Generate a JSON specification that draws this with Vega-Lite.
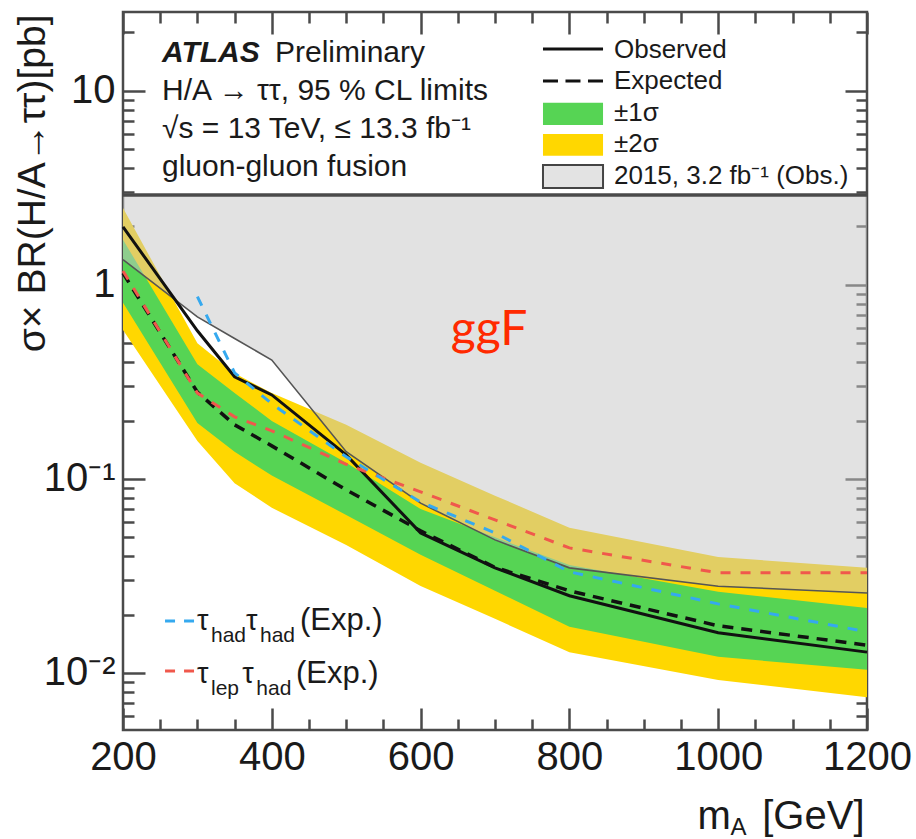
{
  "$schema": "https://vega.github.io/schema/vega-lite/v6.json",
  "width": 744,
  "height": 718,
  "autosize": "none",
  "padding": {"left": 123, "top": 12, "right": 49, "bottom": 109},
  "background": "white",
  "config": {
    "view": {"stroke": "#4a4a4a", "strokeWidth": 2.5, "fill": "white"},
    "font": "Liberation Sans",
    "axis": {"domain": false, "grid": false, "tickColor": "#4a4a4a", "tickWidth": 2.5, "labelFont": "Liberation Sans", "labelColor": "#1a1a1a", "titleFont": "Liberation Sans", "titleColor": "#1a1a1a", "titleFontWeight": "normal"},
    "text": {"font": "Liberation Sans", "color": "#1a1a1a"}
  },
  "datasets": {
    "limits": [
      {"m": 200, "obs": 1.99, "exp": 1.15, "s1lo": 0.81, "s1hi": 1.71, "s2lo": 0.586, "s2hi": 2.49, "obs2015": 1.35, "hadhad": null, "lephad": 1.18},
      {"m": 300, "obs": 0.58, "exp": 0.28, "s1lo": 0.194, "s1hi": 0.39, "s2lo": 0.157, "s2hi": 0.5, "obs2015": 0.684, "hadhad": 0.87, "lephad": 0.277},
      {"m": 350, "obs": 0.336, "exp": 0.19, "s1lo": 0.138, "s1hi": 0.277, "s2lo": 0.095, "s2hi": 0.35, "obs2015": 0.529, "hadhad": 0.352, "lephad": 0.209},
      {"m": 400, "obs": 0.271, "exp": 0.148, "s1lo": 0.104, "s1hi": 0.199, "s2lo": 0.071, "s2hi": 0.277, "obs2015": 0.41, "hadhad": 0.244, "lephad": 0.177},
      {"m": 500, "obs": 0.133, "exp": 0.0878, "s1lo": 0.0652, "s1hi": 0.121, "s2lo": 0.0457, "s2hi": 0.19, "obs2015": 0.138, "hadhad": 0.13, "lephad": 0.119},
      {"m": 600, "obs": 0.0527, "exp": 0.054, "s1lo": 0.0406, "s1hi": 0.07, "s2lo": 0.0281, "s2hi": 0.121, "obs2015": 0.075, "hadhad": 0.076, "lephad": 0.0857},
      {"m": 700, "obs": 0.0348, "exp": 0.035, "s1lo": 0.0265, "s1hi": 0.05, "s2lo": 0.019, "s2hi": 0.082, "obs2015": 0.0485, "hadhad": 0.0527, "lephad": 0.0615},
      {"m": 800, "obs": 0.025, "exp": 0.0265, "s1lo": 0.0173, "s1hi": 0.036, "s2lo": 0.0128, "s2hi": 0.056, "obs2015": 0.0348, "hadhad": 0.0332, "lephad": 0.0441},
      {"m": 1000, "obs": 0.0161, "exp": 0.0175, "s1lo": 0.0121, "s1hi": 0.0262, "s2lo": 0.0092, "s2hi": 0.0396, "obs2015": 0.028, "hadhad": 0.0227, "lephad": 0.0328},
      {"m": 1200, "obs": 0.0128, "exp": 0.0139, "s1lo": 0.0104, "s1hi": 0.0216, "s2lo": 0.0075, "s2hi": 0.0348, "obs2015": 0.0258, "hadhad": 0.0163, "lephad": 0.0328}
    ]
  },
  "data": {"name": "limits"},
  "resolve": {"axis": {"x": "independent", "y": "independent"}},
  "layer": [
    {
      "mark": {"type": "area", "color": "#ffd700"},
      "encoding": {
        "x": {"field": "m", "type": "quantitative", "scale": {"type": "linear", "domain": [200, 1200], "nice": false, "zero": false},
          "axis": {"orient": "bottom", "values": [200, 250, 300, 350, 400, 450, 500, 550, 600, 650, 700, 750, 800, 850, 900, 950, 1000, 1050, 1100, 1150, 1200], "format": "d",
            "labelExpr": "datum.value % 200 === 0 ? datum.label : ''",
            "tickSize": {"condition": {"test": "datum.value % 200 === 0", "value": -22}, "value": -11},
            "labelPadding": 29, "labelFontSize": 40, "labelFlush": false, "labelOverlap": false,
            "title": "[GeV]", "titleFontSize": 40, "titleX": 741, "titleY": 98, "titleAlign": "right", "titleBaseline": "alphabetic", "titleLimit": 400}},
        "y": {"field": "s2lo", "type": "quantitative", "scale": {"type": "log", "domain": [0.00508, 25.5], "nice": false},
          "axis": {"orient": "left", "values": [0.006, 0.007, 0.008, 0.009, 0.01, 0.02, 0.03, 0.04, 0.05, 0.06, 0.07, 0.08, 0.09, 0.1, 0.2, 0.3, 0.4, 0.5, 0.6, 0.7, 0.8, 0.9, 1, 2, 3, 4, 5, 6, 7, 8, 9, 10, 20],
            "labelExpr": "datum.value === 10 ? '10' : datum.value === 1 ? '1' : datum.value === 0.1 ? '10⁻¹' : datum.value === 0.01 ? '10⁻²' : ''",
            "tickSize": {"condition": {"test": "datum.value === 0.01 || datum.value === 0.1 || datum.value === 1 || datum.value === 10", "value": -22}, "value": -11},
            "labelPadding": 30, "labelFontSize": 40, "labelFlush": false, "labelOverlap": false, "labelBaseline": "middle",
            "title": "σ× BR(H/A→ττ)[pb]", "titleFontSize": 39, "titleAngle": -90, "titleX": -79, "titleY": 2, "titleAlign": "right", "titleBaseline": "alphabetic", "titleLimit": 500}},
        "y2": {"field": "s2hi"}
      }
    },
    {
      "mark": {"type": "area", "color": "#56d454"},
      "encoding": {
        "x": {"field": "m", "type": "quantitative", "scale": {"type": "linear", "domain": [200, 1200], "nice": false, "zero": false},
          "axis": {"orient": "top", "values": [200, 250, 300, 350, 400, 450, 500, 550, 600, 650, 700, 750, 800, 850, 900, 950, 1000, 1050, 1100, 1150, 1200],
            "labels": false,
            "tickSize": {"condition": {"test": "datum.value % 200 === 0", "value": -22}, "value": -11},
            "title": "A", "titleFontSize": 24, "titleX": 607, "titleY": 822, "titleAlign": "left", "titleBaseline": "alphabetic"}},
        "y": {"field": "s1lo", "type": "quantitative", "scale": {"type": "log", "domain": [0.00508, 25.5], "nice": false},
          "axis": {"orient": "right", "values": [0.006, 0.007, 0.008, 0.009, 0.01, 0.02, 0.03, 0.04, 0.05, 0.06, 0.07, 0.08, 0.09, 0.1, 0.2, 0.3, 0.4, 0.5, 0.6, 0.7, 0.8, 0.9, 1, 2, 3, 4, 5, 6, 7, 8, 9, 10, 20],
            "labels": false,
            "tickSize": {"condition": {"test": "datum.value === 0.01 || datum.value === 0.1 || datum.value === 1 || datum.value === 10", "value": -22}, "value": -11},
            "title": "m", "titleFontSize": 40, "titleAngle": 0, "titleX": -170, "titleY": 816, "titleAlign": "left", "titleBaseline": "alphabetic"}},
        "y2": {"field": "s1hi"}
      }
    },
    {
      "mark": {"type": "area", "color": "#c6c6c6", "fillOpacity": 0.5},
      "encoding": {
        "x": {"field": "m", "type": "quantitative", "scale": {"type": "linear", "domain": [200, 1200], "nice": false, "zero": false}, "axis": null},
        "y": {"field": "obs2015", "type": "quantitative", "scale": {"type": "log", "domain": [0.00508, 25.5], "nice": false}, "axis": null},
        "y2": {"datum": 2.91}
      }
    },
    {
      "data": {"values": [{}]},
      "mark": {"type": "rule", "color": "#4a4a4a", "strokeWidth": 3.5},
      "encoding": {
        "y": {"datum": 2.91, "type": "quantitative", "scale": {"type": "log", "domain": [0.00508, 25.5], "nice": false}, "axis": null}
      }
    },
    {
      "mark": {"type": "line", "color": "#555555", "strokeWidth": 1.6},
      "encoding": {
        "x": {"field": "m", "type": "quantitative", "scale": {"type": "linear", "domain": [200, 1200], "nice": false, "zero": false}, "axis": null},
        "y": {"field": "obs2015", "type": "quantitative", "scale": {"type": "log", "domain": [0.00508, 25.5], "nice": false}, "axis": null}
      }
    },
    {
      "mark": {"type": "line", "color": "#111111", "strokeWidth": 3.5, "strokeDash": [11, 8]},
      "encoding": {
        "x": {"field": "m", "type": "quantitative", "scale": {"type": "linear", "domain": [200, 1200], "nice": false, "zero": false}, "axis": null},
        "y": {"field": "exp", "type": "quantitative", "scale": {"type": "log", "domain": [0.00508, 25.5], "nice": false}, "axis": null}
      }
    },
    {
      "mark": {"type": "line", "color": "#111111", "strokeWidth": 3},
      "encoding": {
        "x": {"field": "m", "type": "quantitative", "scale": {"type": "linear", "domain": [200, 1200], "nice": false, "zero": false}, "axis": null},
        "y": {"field": "obs", "type": "quantitative", "scale": {"type": "log", "domain": [0.00508, 25.5], "nice": false}, "axis": null}
      }
    },
    {
      "mark": {"type": "line", "color": "#f0584c", "strokeWidth": 3, "strokeDash": [10, 10]},
      "encoding": {
        "x": {"field": "m", "type": "quantitative", "scale": {"type": "linear", "domain": [200, 1200], "nice": false, "zero": false}, "axis": null},
        "y": {"field": "lephad", "type": "quantitative", "scale": {"type": "log", "domain": [0.00508, 25.5], "nice": false}, "axis": null}
      }
    },
    {
      "mark": {"type": "line", "color": "#35a9ef", "strokeWidth": 3, "strokeDash": [10, 10]},
      "encoding": {
        "x": {"field": "m", "type": "quantitative", "scale": {"type": "linear", "domain": [200, 1200], "nice": false, "zero": false}, "axis": null},
        "y": {"field": "hadhad", "type": "quantitative", "scale": {"type": "log", "domain": [0.00508, 25.5], "nice": false}, "axis": null}
      }
    },
    {
      "data": {"values": [{}]},
      "mark": {"type": "text", "text": "ATLAS", "fontSize": 30, "fontWeight": "bold", "fontStyle": "italic", "align": "left", "baseline": "alphabetic"},
      "encoding": {
        "x": {"datum": 252.4, "type": "quantitative", "scale": {"type": "linear", "domain": [200, 1200], "nice": false, "zero": false}, "axis": null},
        "y": {"datum": 14.11, "type": "quantitative", "scale": {"type": "log", "domain": [0.00508, 25.5], "nice": false}, "axis": null}
      }
    },
    {
      "data": {"values": [{}]},
      "mark": {"type": "text", "text": "Preliminary", "fontSize": 30, "align": "left", "baseline": "alphabetic"},
      "encoding": {
        "x": {"datum": 404.3, "type": "quantitative", "scale": {"type": "linear", "domain": [200, 1200], "nice": false, "zero": false}, "axis": null},
        "y": {"datum": 14.11, "type": "quantitative", "scale": {"type": "log", "domain": [0.00508, 25.5], "nice": false}, "axis": null}
      }
    },
    {
      "data": {"values": [{}]},
      "mark": {"type": "text", "text": ["H/A → ττ, 95 % CL limits", "√s = 13 TeV, ≤ 13.3 fb⁻¹", "gluon-gluon fusion"], "fontSize": 30, "lineHeight": 38, "align": "left", "baseline": "alphabetic"},
      "encoding": {
        "x": {"datum": 252.4, "type": "quantitative", "scale": {"type": "linear", "domain": [200, 1200], "nice": false, "zero": false}, "axis": null},
        "y": {"datum": 8.986, "type": "quantitative", "scale": {"type": "log", "domain": [0.00508, 25.5], "nice": false}, "axis": null}
      }
    },
    {
      "data": {"values": [{}]},
      "mark": {"type": "rule", "color": "#111111", "strokeWidth": 3},
      "encoding": {
        "x": {"datum": 764.5, "type": "quantitative", "scale": {"type": "linear", "domain": [200, 1200], "nice": false, "zero": false}, "axis": null},
        "x2": {"datum": 845.2},
        "y": {"datum": 16.46, "type": "quantitative", "scale": {"type": "log", "domain": [0.00508, 25.5], "nice": false}, "axis": null}
      }
    },
    {
      "data": {"values": [{}]},
      "mark": {"type": "rule", "color": "#111111", "strokeWidth": 3, "strokeDash": [15, 7.5]},
      "encoding": {
        "x": {"datum": 764.5, "type": "quantitative", "scale": {"type": "linear", "domain": [200, 1200], "nice": false, "zero": false}, "axis": null},
        "x2": {"datum": 845.2},
        "y": {"datum": 11.26, "type": "quantitative", "scale": {"type": "log", "domain": [0.00508, 25.5], "nice": false}, "axis": null}
      }
    },
    {
      "data": {"values": [{}]},
      "mark": {"type": "rect", "color": "#56d454"},
      "encoding": {
        "x": {"datum": 764.5, "type": "quantitative", "scale": {"type": "linear", "domain": [200, 1200], "nice": false, "zero": false}, "axis": null},
        "x2": {"datum": 845.2},
        "y": {"datum": 8.674, "type": "quantitative", "scale": {"type": "log", "domain": [0.00508, 25.5], "nice": false}, "axis": null},
        "y2": {"datum": 6.677}
      }
    },
    {
      "data": {"values": [{}]},
      "mark": {"type": "rect", "color": "#ffd700"},
      "encoding": {
        "x": {"datum": 764.5, "type": "quantitative", "scale": {"type": "linear", "domain": [200, 1200], "nice": false, "zero": false}, "axis": null},
        "x2": {"datum": 845.2},
        "y": {"datum": 6.003, "type": "quantitative", "scale": {"type": "log", "domain": [0.00508, 25.5], "nice": false}, "axis": null},
        "y2": {"datum": 4.624}
      }
    },
    {
      "data": {"values": [{}]},
      "mark": {"type": "rect", "fill": "#e3e3e3", "stroke": "#444444", "strokeWidth": 2},
      "encoding": {
        "x": {"datum": 764.5, "type": "quantitative", "scale": {"type": "linear", "domain": [200, 1200], "nice": false, "zero": false}, "axis": null},
        "x2": {"datum": 845.2},
        "y": {"datum": 4.155, "type": "quantitative", "scale": {"type": "log", "domain": [0.00508, 25.5], "nice": false}, "axis": null},
        "y2": {"datum": 3.162}
      }
    },
    {
      "data": {"values": [{}]},
      "mark": {"type": "text", "text": ["Observed", "Expected", "±1σ", "±2σ", "2015, 3.2 fb⁻¹ (Obs.)"], "fontSize": 26, "lineHeight": 31.5, "align": "left", "baseline": "alphabetic"},
      "encoding": {
        "x": {"datum": 859.9, "type": "quantitative", "scale": {"type": "linear", "domain": [200, 1200], "nice": false, "zero": false}, "axis": null},
        "y": {"datum": 14.8, "type": "quantitative", "scale": {"type": "log", "domain": [0.00508, 25.5], "nice": false}, "axis": null}
      }
    },
    {
      "data": {"values": [{}]},
      "mark": {"type": "text", "text": "ggF", "font": "Lato", "fontSize": 48, "color": "#ff2a00", "align": "center", "baseline": "alphabetic"},
      "encoding": {
        "x": {"datum": 692, "type": "quantitative", "scale": {"type": "linear", "domain": [200, 1200], "nice": false, "zero": false}, "axis": null},
        "y": {"datum": 0.491, "type": "quantitative", "scale": {"type": "log", "domain": [0.00508, 25.5], "nice": false}, "axis": null}
      }
    },
    {
      "data": {"values": [{}]},
      "mark": {"type": "rule", "color": "#35a9ef", "strokeWidth": 3, "strokeDash": [10, 9]},
      "encoding": {
        "x": {"datum": 256.5, "type": "quantitative", "scale": {"type": "linear", "domain": [200, 1200], "nice": false, "zero": false}, "axis": null},
        "x2": {"datum": 296.8},
        "y": {"datum": 0.01854, "type": "quantitative", "scale": {"type": "log", "domain": [0.00508, 25.5], "nice": false}, "axis": null}
      }
    },
    {
      "data": {"values": [{}]},
      "mark": {"type": "rule", "color": "#f0584c", "strokeWidth": 3, "strokeDash": [10, 9]},
      "encoding": {
        "x": {"datum": 256.5, "type": "quantitative", "scale": {"type": "linear", "domain": [200, 1200], "nice": false, "zero": false}, "axis": null},
        "x2": {"datum": 296.8},
        "y": {"datum": 0.01024, "type": "quantitative", "scale": {"type": "log", "domain": [0.00508, 25.5], "nice": false}, "axis": null}
      }
    },
    {
      "data": {"values": [{}]},
      "mark": {"type": "text", "text": "τ", "fontSize": 29, "align": "left", "baseline": "alphabetic"},
      "encoding": {
        "x": {"datum": 299.5, "type": "quantitative", "scale": {"type": "linear", "domain": [200, 1200], "nice": false, "zero": false}, "axis": null},
        "y": {"datum": 0.01666, "type": "quantitative", "scale": {"type": "log", "domain": [0.00508, 25.5], "nice": false}, "axis": null}
      }
    },
    {
      "data": {"values": [{}]},
      "mark": {"type": "text", "text": "had", "fontSize": 21, "align": "left", "baseline": "alphabetic"},
      "encoding": {
        "x": {"datum": 318.3, "type": "quantitative", "scale": {"type": "linear", "domain": [200, 1200], "nice": false, "zero": false}, "axis": null},
        "y": {"datum": 0.01445, "type": "quantitative", "scale": {"type": "log", "domain": [0.00508, 25.5], "nice": false}, "axis": null}
      }
    },
    {
      "data": {"values": [{}]},
      "mark": {"type": "text", "text": "τ", "fontSize": 29, "align": "left", "baseline": "alphabetic"},
      "encoding": {
        "x": {"datum": 365.3, "type": "quantitative", "scale": {"type": "linear", "domain": [200, 1200], "nice": false, "zero": false}, "axis": null},
        "y": {"datum": 0.01666, "type": "quantitative", "scale": {"type": "log", "domain": [0.00508, 25.5], "nice": false}, "axis": null}
      }
    },
    {
      "data": {"values": [{}]},
      "mark": {"type": "text", "text": "had", "fontSize": 21, "align": "left", "baseline": "alphabetic"},
      "encoding": {
        "x": {"datum": 384.1, "type": "quantitative", "scale": {"type": "linear", "domain": [200, 1200], "nice": false, "zero": false}, "axis": null},
        "y": {"datum": 0.01445, "type": "quantitative", "scale": {"type": "log", "domain": [0.00508, 25.5], "nice": false}, "axis": null}
      }
    },
    {
      "data": {"values": [{}]},
      "mark": {"type": "text", "text": "(Exp.)", "fontSize": 31, "align": "left", "baseline": "alphabetic"},
      "encoding": {
        "x": {"datum": 437.9, "type": "quantitative", "scale": {"type": "linear", "domain": [200, 1200], "nice": false, "zero": false}, "axis": null},
        "y": {"datum": 0.01666, "type": "quantitative", "scale": {"type": "log", "domain": [0.00508, 25.5], "nice": false}, "axis": null}
      }
    },
    {
      "data": {"values": [{}]},
      "mark": {"type": "text", "text": "τ", "fontSize": 29, "align": "left", "baseline": "alphabetic"},
      "encoding": {
        "x": {"datum": 299.5, "type": "quantitative", "scale": {"type": "linear", "domain": [200, 1200], "nice": false, "zero": false}, "axis": null},
        "y": {"datum": 0.008883, "type": "quantitative", "scale": {"type": "log", "domain": [0.00508, 25.5], "nice": false}, "axis": null}
      }
    },
    {
      "data": {"values": [{}]},
      "mark": {"type": "text", "text": "lep", "fontSize": 21, "align": "left", "baseline": "alphabetic"},
      "encoding": {
        "x": {"datum": 318.3, "type": "quantitative", "scale": {"type": "linear", "domain": [200, 1200], "nice": false, "zero": false}, "axis": null},
        "y": {"datum": 0.0077, "type": "quantitative", "scale": {"type": "log", "domain": [0.00508, 25.5], "nice": false}, "axis": null}
      }
    },
    {
      "data": {"values": [{}]},
      "mark": {"type": "text", "text": "τ", "fontSize": 29, "align": "left", "baseline": "alphabetic"},
      "encoding": {
        "x": {"datum": 360.4, "type": "quantitative", "scale": {"type": "linear", "domain": [200, 1200], "nice": false, "zero": false}, "axis": null},
        "y": {"datum": 0.008883, "type": "quantitative", "scale": {"type": "log", "domain": [0.00508, 25.5], "nice": false}, "axis": null}
      }
    },
    {
      "data": {"values": [{}]},
      "mark": {"type": "text", "text": "had", "fontSize": 21, "align": "left", "baseline": "alphabetic"},
      "encoding": {
        "x": {"datum": 379.2, "type": "quantitative", "scale": {"type": "linear", "domain": [200, 1200], "nice": false, "zero": false}, "axis": null},
        "y": {"datum": 0.0077, "type": "quantitative", "scale": {"type": "log", "domain": [0.00508, 25.5], "nice": false}, "axis": null}
      }
    },
    {
      "data": {"values": [{}]},
      "mark": {"type": "text", "text": "(Exp.)", "fontSize": 31, "align": "left", "baseline": "alphabetic"},
      "encoding": {
        "x": {"datum": 432.5, "type": "quantitative", "scale": {"type": "linear", "domain": [200, 1200], "nice": false, "zero": false}, "axis": null},
        "y": {"datum": 0.008883, "type": "quantitative", "scale": {"type": "log", "domain": [0.00508, 25.5], "nice": false}, "axis": null}
      }
    }
  ]
}
